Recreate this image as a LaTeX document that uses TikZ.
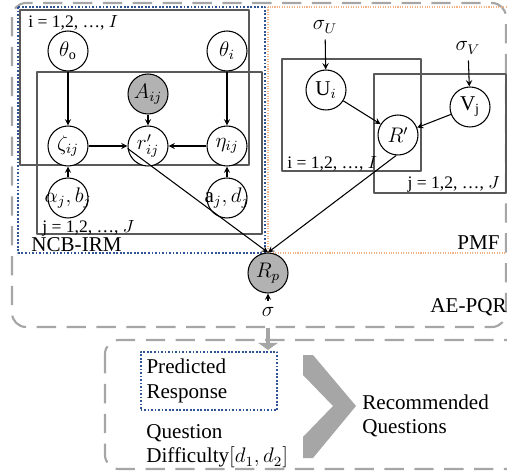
\documentclass[tikz,border=0pt]{standalone}
\usepackage{fontspec}
\setmainfont{Liberation Serif}
\usetikzlibrary{arrows.meta}
\definecolor{ncbblue}{HTML}{2F5597}
\definecolor{pmforange}{HTML}{F4B183}
\definecolor{framegray}{HTML}{A6A6A6}
\newcommand{\narrowlbl}[1]{\makebox[0pt]{#1}}

\begin{document}
\begin{tikzpicture}[x=0.02cm, y=-0.02cm, >=stealth, line join=round,
  font=\fontsize{12}{14}\selectfont,
  var/.style={circle, draw, line width=0.6pt, fill=white, minimum size=0.8cm, inner sep=0pt},
  obs/.style={var, fill=gray!60},
  plate/.style={draw=black!65, line width=0.6pt},
  lbl/.style={font=\fontsize{10}{12}\selectfont, inner sep=1pt},
  aebox/.style={draw=framegray, line width=1.2pt, dash pattern=on 11pt off 6pt, rounded corners=8pt},
  every path/.append style={line width=0.6pt}]
\useasboundingbox (0,0) rectangle (507,476);
% frames
\draw[aebox] (12,3) rectangle (506,327);
\draw[aebox] (105,340) rectangle (530,469);
\draw[ncbblue, line width=1pt, dash pattern=on 1pt off 1pt] (18,7) rectangle (265,253);
\draw[pmforange, dash pattern=on 0.6pt off 0.8pt] (268,7) rectangle (530,253);
\node[anchor=west] (ncblbl) at (25,245) {NCB-IRM};
\node[anchor=east] (pmflbl) at (506,243) {PMF};
\node[anchor=east] (aelbl) at (513,307) {AE-PQR};
% plates
\draw[plate] (20,10) rectangle (249,165);
\draw[plate] (37,72) rectangle (262,234);
\draw[plate] (282,59) rectangle (421,171);
\draw[plate] (374,74) rectangle (506,193);
% NCB-IRM
\node[var] (thetao) at (68,51) {$\theta_\mathrm{o}$};
\node[var] (thetai) at (227,51) {$\theta_i$};
\node[obs] (Aij) at (148,94) {$A_{ij}$};
\node[var] (zeta) at (68,146) {$\zeta_{ij}$};
\node[var] (rij) at (148,146) {$r'_{ij}$};
\node[var] (eta) at (227,146) {$\eta_{ij}$};
\node[var] (alphab) at (68,198) {\narrowlbl{$\alpha_j,b_j$}};
\node[var] (ad) at (227,198) {\narrowlbl{$\mathrm{a}_j,d_j$}};
% PMF
\node (sigU) at (325,27) {$\sigma_U$};
\node[var] (U) at (326,90) {$\mathrm{U}_i$};
\node (sigV) at (468,48) {$\sigma_V$};
\node[var] (V) at (470,107) {$\mathrm{V}_\mathrm{j}$};
\node[var] (Rprime) at (398,135) {$R'$};
\node[lbl, anchor=west] at (26,23) {i = 1,2, …, $I$};
\node[lbl, anchor=west] at (40,228) {j = 1,2, …, $J$};
\node[lbl, anchor=west] at (285,164) {i = 1,2, …, $I$};
\node[lbl, anchor=east] at (502,184) {j = 1,2, …, $J$};
% AE-PQR
\node[obs] (Rp) at (268,273) {$R_p$};
\node (sigma) at (268,312) {$\sigma$};
\foreach \a/\b in {thetao/zeta, thetai/eta, Aij/rij, zeta/rij, eta/rij, alphab/zeta, ad/eta,
  sigU/U, sigV/V, U/Rprime, V/Rprime, sigma/Rp}
  \draw[->] (\a) -- (\b);
\draw[->] (rij.187) -- (Rp.north);
\draw[->] (Rprime.265) -- (Rp.north);
% recommendation
\coordinate (aebot) at (268,328);
\coordinate (recin) at (268,350);
\draw[framegray, line width=2.8pt, -{Triangle[width=11pt, length=4pt]}] (aebot) -- (recin);
\node[draw=ncbblue, line width=1pt, dash pattern=on 1pt off 1pt, text width=2.5cm, minimum height=1.16cm, align=left] (pred) at (209,381) {Predicted\\Response};
\node[align=left, anchor=north west] (diff) at (140,418) {Question\\Difficulty$[d_1,d_2]$};
\fill[framegray] (303,355) -- (313,355) -- (356,406) -- (313,458) -- (303,458) -- (303,437) -- (333,406) -- (303,375) -- cycle;
\node[align=left, anchor=west] (rec) at (356,416) {Recommended\\Questions};
\end{tikzpicture}
\end{document}
